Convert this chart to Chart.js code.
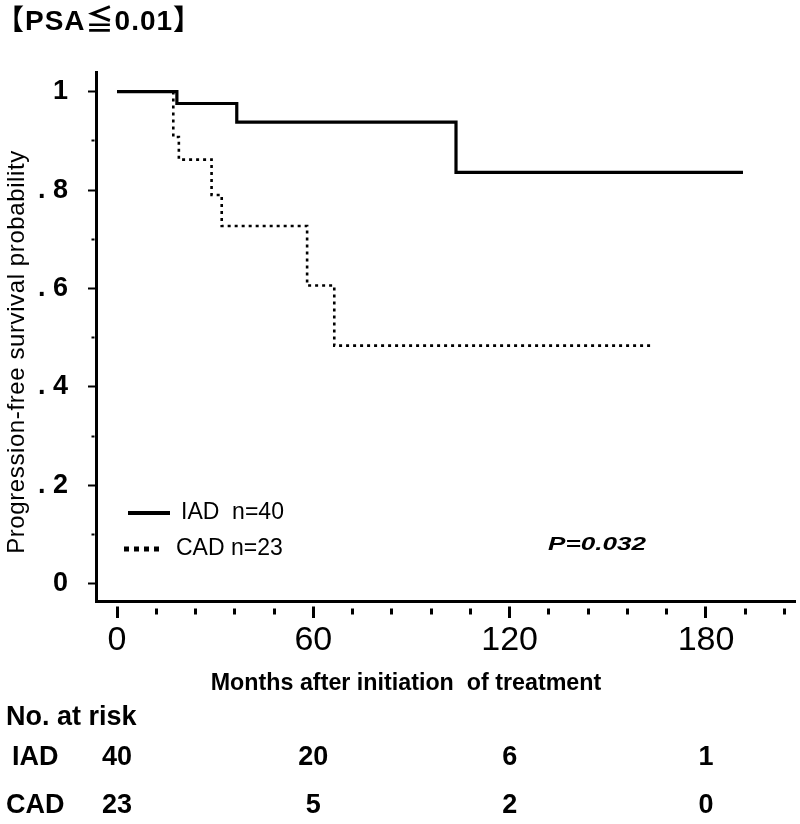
<!DOCTYPE html>
<html lang="en">
<head>
<meta charset="UTF-8">
<title>PSA ≦ 0.01</title>
<script src="https://cdn.jsdelivr.net/npm/chart.js"></script>
<style>
body {margin:0; background:#fff;}
canvas {display:block;}
</style>
</head>
<body>
<canvas id="kmChart" width="800" height="824"></canvas>
<script>
// Kaplan-Meier steps (months, survival probability)
var iadMonths = [0, 18.3, 36.6, 103.6, 191.3];
var iadSurv   = [1, 0.976, 0.938, 0.836, 0.836];
var cadMonths = [0, 17.2, 18.9, 28.9, 32.0, 58.1, 66.4, 164];
var cadSurv   = [1, 0.908, 0.862, 0.790, 0.727, 0.606, 0.484, 0.484];

var legendText = ["IAD  n=40", "CAD n=23"];
var pText = "P=0.032";

// number at risk table
var riskGroups = ["IAD", "CAD"];
var riskMonths = [0, 60, 120, 180];
var iadRisk = [40, 20, 6, 1];
var cadRisk = [23, 5, 2, 0];

// axis ticks
var xTicks = [0, 12, 24, 36, 48, 60, 72, 84, 96, 108, 120, 132, 144, 156, 168, 180, 192, 204];
var xTickLabels = [0, 60, 120, 180];
var yTicks = [0, 0.1, 0.2, 0.3, 0.4, 0.5, 0.6, 0.7, 0.8, 0.9, 1];
var yTickLabels = ["0", "", ". 2", "", ". 4", "", ". 6", "", ". 8", "", "1"];

var SANS = '"Liberation Sans", Arial, sans-serif';

function toPoints(xs, ys) {
  var pts = [];
  for (var i = 0; i < xs.length; i++) pts.push({x: xs[i], y: ys[i]});
  return pts;
}

// titles, legend, p value and risk table
var annotations = {
  id: 'annotations',
  afterDraw: function(chart) {
    var ctx = chart.ctx;
    var xs = chart.scales.x;
    ctx.save();
    ctx.fillStyle = '#000';
    ctx.strokeStyle = '#000';
    ctx.textBaseline = 'middle';

    // panel title
    ctx.textAlign = 'left';
    ctx.font = 'bold 28px ' + SANS + ', "Noto Sans CJK JP"';
    ctx.letterSpacing = '1px';
    ctx.fillText("【PSA≦0.01】", -4, 22);

    // y axis title
    ctx.save();
    ctx.translate(17, 352);
    ctx.rotate(-Math.PI / 2);
    ctx.textAlign = 'center';
    ctx.font = '24px ' + SANS;
    ctx.letterSpacing = '0.6px';
    ctx.fillText("Progression-free survival probability", 0, 0);
    ctx.restore();
    ctx.letterSpacing = '0px';

    // x axis title
    ctx.save();
    ctx.translate(406, 683);
    ctx.scale(0.97, 1);
    ctx.textAlign = 'center';
    ctx.font = 'bold 24px ' + SANS;
    ctx.fillText("Months after initiation  of treatment", 0, 0);
    ctx.restore();

    // legend
    ctx.lineWidth = 4;
    ctx.beginPath();
    ctx.moveTo(128, 513);
    ctx.lineTo(170, 513);
    ctx.stroke();
    ctx.lineWidth = 5;
    ctx.setLineDash([5, 5]);
    ctx.beginPath();
    ctx.moveTo(124, 549);
    ctx.lineTo(164, 549);
    ctx.stroke();
    ctx.setLineDash([]);
    ctx.textAlign = 'left';
    ctx.font = '23px ' + SANS;
    ctx.fillText(legendText[0], 181, 513);
    ctx.fillText(legendText[1], 176, 549);

    // p value (wide italic)
    ctx.save();
    ctx.translate(548, 545);
    ctx.scale(1.45, 1);
    ctx.font = 'italic bold 18px ' + SANS;
    ctx.fillText(pText, 0, 0);
    ctx.restore();

    // number at risk
    ctx.font = 'bold 27px ' + SANS;
    ctx.textAlign = 'left';
    ctx.fillText("No. at risk", 6, 718);
    ctx.fillText(riskGroups[0], 12, 758);
    ctx.fillText(riskGroups[1], 6, 806);
    ctx.textAlign = 'center';
    for (var i = 0; i < riskMonths.length; i++) {
      var px = xs.getPixelForValue(riskMonths[i]);
      ctx.fillText(String(iadRisk[i]), px, 758);
      ctx.fillText(String(cadRisk[i]), px, 806);
    }
    ctx.restore();
  }
};

new Chart("kmChart", {
  type: "line",
  data: {
    datasets: [
      {
        label: "IAD",
        data: toPoints(iadMonths, iadSurv),
        borderColor: "#000",
        borderWidth: 3.2,
        stepped: true,
        pointRadius: 0,
        fill: false,
        order: 0
      },
      {
        label: "CAD",
        data: toPoints(cadMonths, cadSurv),
        borderColor: "#000",
        borderWidth: 2.6,
        borderDash: [3, 4],
        stepped: true,
        pointRadius: 0,
        fill: false,
        order: 1
      }
    ]
  },
  options: {
    responsive: false,
    animation: false,
    devicePixelRatio: 1,
    layout: {padding: {top: 72, right: 5, bottom: 123, left: 0}},
    plugins: {legend: {display: false}, tooltip: {enabled: false}},
    scales: {
      x: {
        type: "linear",
        min: -6.42,
        max: 207.2,
        afterBuildTicks: function(s) { s.ticks = xTicks.map(function(v) { return {value: v}; }); },
        afterFit: function(s) { s.height = 100; },
        border: {display: true, color: "#000", width: 3},
        grid: {
          drawOnChartArea: false,
          tickLength: 17,
          tickColor: "#000",
          tickWidth: 3,
          tickBorderDash: function(c) { return xTickLabels.indexOf(c.tick.value) >= 0 ? [12, 3.5] : [6, 5.5]; },
          tickBorderDashOffset: function(c) { return xTickLabels.indexOf(c.tick.value) >= 0 ? 12 : 6; }
        },
        ticks: {
          autoSkip: false,
          maxRotation: 0,
          minRotation: 0,
          padding: 2,
          color: "#000",
          font: {family: SANS, size: 34},
          callback: function(v) { return xTickLabels.indexOf(v) >= 0 ? String(v) : ""; }
        }
      },
      y: {
        min: -0.035,
        max: 1.04,
        afterBuildTicks: function(s) { s.ticks = yTicks.map(function(v) { return {value: v}; }); },
        afterFit: function(s) { s.width = 96; },
        border: {display: true, color: "#000", width: 3},
        grid: {
          drawOnChartArea: false,
          tickLength: 8,
          tickColor: "#000",
          tickWidth: 2,
          tickBorderDash: function(c) { return yTickLabels[yTicks.indexOf(c.tick.value)] ? [] : [3, 3.5]; },
          tickBorderDashOffset: function(c) { return yTickLabels[yTicks.indexOf(c.tick.value)] ? 0 : 3; }
        },
        ticks: {
          padding: 20,
          color: "#000",
          font: {family: SANS, size: 27, weight: "bold"},
          callback: function(v) { return yTickLabels[yTicks.indexOf(v)]; }
        }
      }
    }
  },
  plugins: [annotations]
});
</script>
</body>
</html>
